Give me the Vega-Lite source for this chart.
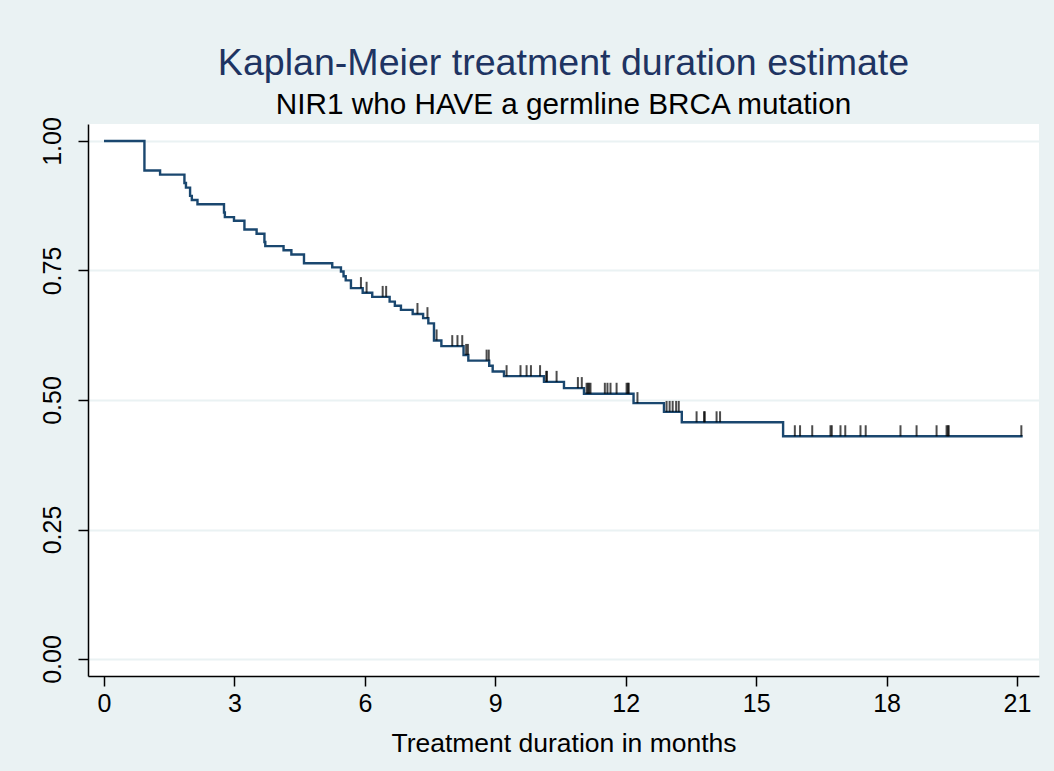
{
  "$schema": "https://vega.github.io/schema/vega-lite/v6.json",
  "width": 951,
  "height": 552,
  "autosize": "none",
  "padding": {"left": 88, "top": 124, "right": 15, "bottom": 95},
  "background": "#EAF2F3",
  "config": {
    "font": "Liberation Sans",
    "view": {"fill": "white", "stroke": null}
  },
  "title": {
    "text": "Kaplan-Meier treatment duration estimate",
    "subtitle": "NIR1 who HAVE a germline BRCA mutation",
    "anchor": "middle",
    "frame": "group",
    "font": "Liberation Sans",
    "fontSize": 37.6,
    "fontWeight": "normal",
    "color": "#1E3462",
    "subtitleFont": "Liberation Sans",
    "subtitleFontSize": 29.7,
    "subtitleColor": "#000000",
    "subtitlePadding": 8,
    "offset": -3
  },
  "datasets": {
    "km": [
      {"t": 0, "s": 1.0},
      {"t": 0.93, "s": 0.943},
      {"t": 1.29, "s": 0.935},
      {"t": 1.85, "s": 0.919},
      {"t": 1.885, "s": 0.910},
      {"t": 1.98, "s": 0.894},
      {"t": 2.02, "s": 0.886},
      {"t": 2.15, "s": 0.878},
      {"t": 2.76, "s": 0.862},
      {"t": 2.78, "s": 0.853},
      {"t": 2.99, "s": 0.846},
      {"t": 3.23, "s": 0.829},
      {"t": 3.51, "s": 0.821},
      {"t": 3.69, "s": 0.805},
      {"t": 3.71, "s": 0.797},
      {"t": 4.13, "s": 0.789},
      {"t": 4.31, "s": 0.781},
      {"t": 4.60, "s": 0.764},
      {"t": 5.25, "s": 0.756},
      {"t": 5.45, "s": 0.748},
      {"t": 5.51, "s": 0.739},
      {"t": 5.56, "s": 0.731},
      {"t": 5.68, "s": 0.716},
      {"t": 5.95, "s": 0.707},
      {"t": 6.17, "s": 0.699},
      {"t": 6.57, "s": 0.690},
      {"t": 6.69, "s": 0.682},
      {"t": 6.83, "s": 0.674},
      {"t": 7.10, "s": 0.666},
      {"t": 7.34, "s": 0.658},
      {"t": 7.46, "s": 0.648},
      {"t": 7.59, "s": 0.615},
      {"t": 7.76, "s": 0.604},
      {"t": 8.27, "s": 0.587},
      {"t": 8.38, "s": 0.576},
      {"t": 8.86, "s": 0.566},
      {"t": 8.94, "s": 0.555},
      {"t": 9.20, "s": 0.546},
      {"t": 10.12, "s": 0.535},
      {"t": 10.58, "s": 0.523},
      {"t": 11.04, "s": 0.512},
      {"t": 12.18, "s": 0.494},
      {"t": 12.88, "s": 0.477},
      {"t": 13.29, "s": 0.457},
      {"t": 15.62, "s": 0.430},
      {"t": 21.13, "s": 0.430}
    ],
    "cens": [
      {"t": 5.91, "s": 0.716},
      {"t": 6.04, "s": 0.707},
      {"t": 6.41, "s": 0.699},
      {"t": 6.49, "s": 0.699},
      {"t": 7.21, "s": 0.666},
      {"t": 7.44, "s": 0.658},
      {"t": 7.65, "s": 0.615},
      {"t": 8.01, "s": 0.604},
      {"t": 8.13, "s": 0.604},
      {"t": 8.24, "s": 0.604},
      {"t": 8.33, "s": 0.587},
      {"t": 8.37, "s": 0.587},
      {"t": 8.80, "s": 0.576},
      {"t": 8.85, "s": 0.576},
      {"t": 9.26, "s": 0.546},
      {"t": 9.58, "s": 0.546},
      {"t": 9.72, "s": 0.546},
      {"t": 9.82, "s": 0.546},
      {"t": 10.03, "s": 0.546},
      {"t": 10.17, "s": 0.535},
      {"t": 10.19, "s": 0.535},
      {"t": 10.41, "s": 0.535},
      {"t": 10.90, "s": 0.523},
      {"t": 10.99, "s": 0.523},
      {"t": 11.10, "s": 0.512},
      {"t": 11.13, "s": 0.512},
      {"t": 11.16, "s": 0.512},
      {"t": 11.19, "s": 0.512},
      {"t": 11.52, "s": 0.512},
      {"t": 11.58, "s": 0.512},
      {"t": 11.65, "s": 0.512},
      {"t": 11.79, "s": 0.512},
      {"t": 12.02, "s": 0.512},
      {"t": 12.05, "s": 0.512},
      {"t": 12.07, "s": 0.512},
      {"t": 12.27, "s": 0.494},
      {"t": 12.94, "s": 0.477},
      {"t": 13.01, "s": 0.477},
      {"t": 13.08, "s": 0.477},
      {"t": 13.16, "s": 0.477},
      {"t": 13.22, "s": 0.477},
      {"t": 13.63, "s": 0.457},
      {"t": 13.80, "s": 0.457},
      {"t": 13.82, "s": 0.457},
      {"t": 14.09, "s": 0.457},
      {"t": 14.17, "s": 0.457},
      {"t": 15.89, "s": 0.430},
      {"t": 16.01, "s": 0.430},
      {"t": 16.29, "s": 0.430},
      {"t": 16.71, "s": 0.430},
      {"t": 16.74, "s": 0.430},
      {"t": 16.94, "s": 0.430},
      {"t": 17.05, "s": 0.430},
      {"t": 17.40, "s": 0.430},
      {"t": 17.52, "s": 0.430},
      {"t": 18.32, "s": 0.430},
      {"t": 18.69, "s": 0.430},
      {"t": 19.15, "s": 0.430},
      {"t": 19.38, "s": 0.430},
      {"t": 19.41, "s": 0.430},
      {"t": 19.43, "s": 0.430},
      {"t": 21.10, "s": 0.430}
    ]
  },
  "encoding": {
    "x": {
      "field": "t",
      "type": "quantitative",
      "scale": {"domain": [-0.368, 21.506], "nice": false, "zero": false},
      "axis": {
        "title": "Treatment duration in months",
        "values": [0, 3, 6, 9, 12, 15, 18, 21],
        "grid": false,
        "domainColor": "#000000",
        "domainWidth": 1.5,
        "tickColor": "#000000",
        "tickWidth": 1.5,
        "tickSize": 10,
        "labelFont": "Liberation Sans",
        "labelFontSize": 25,
        "labelColor": "#000000",
        "labelPadding": 5,
        "labelFlush": false,
        "titleFont": "Liberation Sans",
        "titleFontSize": 26.5,
        "titleFontWeight": "normal",
        "titleColor": "#000000",
        "titlePadding": 14
      }
    },
    "y": {
      "field": "s",
      "type": "quantitative",
      "scale": {"domain": [-0.0328, 1.0328], "nice": false, "zero": false},
      "axis": {
        "title": null,
        "values": [0, 0.25, 0.5, 0.75, 1],
        "format": ".2f",
        "grid": true,
        "gridColor": "#EAF2F3",
        "gridWidth": 2,
        "domainColor": "#000000",
        "domainWidth": 1.5,
        "tickColor": "#000000",
        "tickWidth": 1.5,
        "tickSize": 10,
        "labelAngle": 270,
        "labelFont": "Liberation Sans",
        "labelFontSize": 25,
        "labelColor": "#000000",
        "labelPadding": 13,
        "labelFlush": false
      }
    }
  },
  "layer": [
    {
      "data": {"name": "km"},
      "mark": {"type": "line", "interpolate": "step-after", "color": "#1A476F", "strokeWidth": 2.4}
    },
    {
      "data": {"name": "cens"},
      "mark": {"type": "tick", "orient": "vertical", "color": "#000000", "size": 11, "thickness": 2, "yOffset": -5.5}
    }
  ]
}
